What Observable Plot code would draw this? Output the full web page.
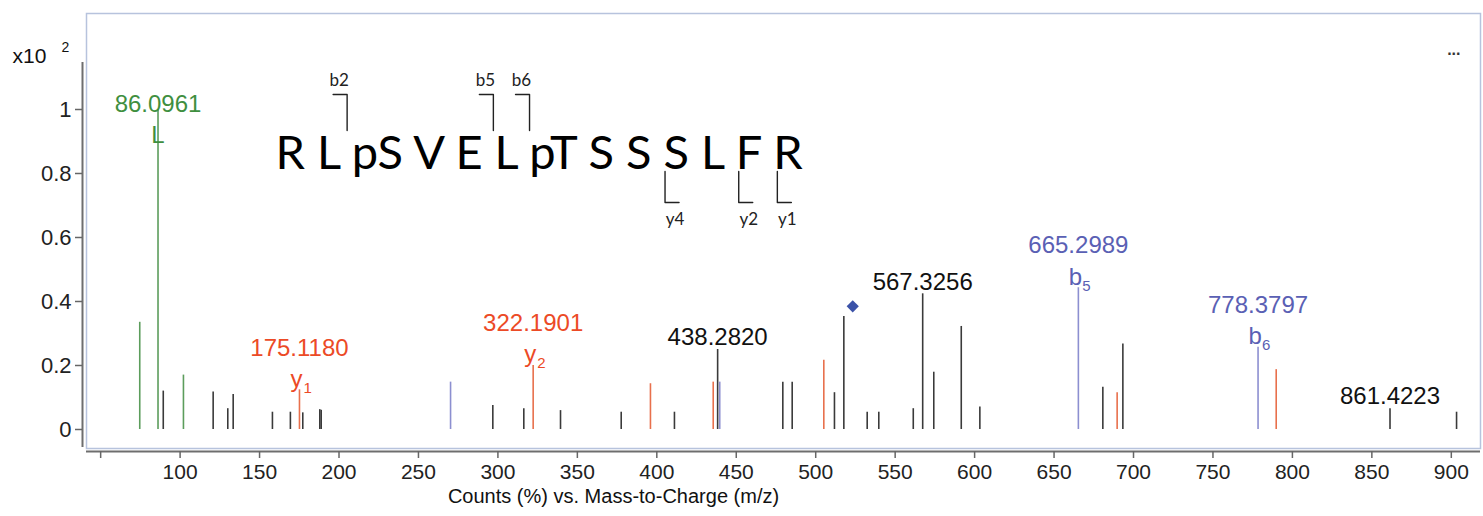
<!DOCTYPE html>
<html><head><meta charset="utf-8">
<script src="https://cdn.jsdelivr.net/npm/d3@7"></script>
<script src="https://cdn.jsdelivr.net/npm/@observablehq/plot@0.6"></script>
<style>html,body{margin:0;padding:0;background:#fff;overflow:hidden;}</style>
</head><body><div id="chart"></div>
<script>
// ---------- data (m/z, relative intensity x10^2) ----------
const greenMz  = [74.6, 86.0961, 102.1];
const greenInt = [0.335, 1.0, 0.17];
const blackMz  = [89.4, 120.8, 130.0, 133.4, 158.1, 169.4, 177.2, 187.9, 188.8, 296.8, 316.3, 339.4, 377.6, 411.1, 438.2820, 479.3, 485.2, 511.8, 517.7, 532.4, 539.7, 561.4, 567.3256, 574.3, 591.6, 603.3, 680.7, 693.3, 861.4223, 903.3];
const blackInt = [0.12, 0.117, 0.065, 0.109, 0.054, 0.054, 0.052, 0.062, 0.06, 0.075, 0.065, 0.059, 0.054, 0.054, 0.25, 0.148, 0.148, 0.115, 0.353, 0.054, 0.054, 0.065, 0.424, 0.179, 0.322, 0.07, 0.132, 0.267, 0.065, 0.054];
const redMz    = [175.1180, 322.1901, 396.0, 435.5, 505.1, 689.7, 789.8];
const redInt   = [0.124, 0.2, 0.143, 0.148, 0.216, 0.115, 0.187];
const blueMz   = [270.2, 439.6, 665.2989, 778.3797];
const blueInt  = [0.148, 0.148, 0.443, 0.257];
const precursorMz  = [523.3];
const precursorInt = [0.385];

const labelMz     = [86.0961, 175.1180, 322.1901, 438.2820, 567.3256, 665.2989, 778.3797, 861.4223];
const labelText   = ["86.0961", "175.1180", "322.1901", "438.2820", "567.3256", "665.2989", "778.3797", "861.4223"];
const labelIon    = ["L", "y", "y", "", "", "b", "b", ""];
const labelIonSub = ["", "1", "2", "", "", "5", "6", ""];
const labelSeries = ["green", "red", "red", "black", "black", "blue", "blue", "black"];

const residues = ["R", "L", "pS", "V", "E", "L", "pT", "S", "S", "S", "L", "F", "R"];
const bIons = [2, 5, 6];
const yIons = [4, 2, 1];

const xTicks = [50, 100, 150, 200, 250, 300, 350, 400, 450, 500, 550, 600, 650, 700, 750, 800, 850, 900];
const yTicks = [0, 0.2, 0.4, 0.6, 0.8, 1];
const xTitle = "Counts (%) vs. Mass-to-Charge (m/z)";

// ---------- styles ----------
const lineColor = {green: "#5c9d5c", black: "#3a3a3a", red: "#e8704c", blue: "#8c8fd0"};
const textColor = {green: "#3f8f3f", black: "#111111", red: "#ec4a26", blue: "#5a60b4"};
const FONT = "Liberation Sans, Arial, Helvetica, sans-serif";
const SEQFONT = "Lato";

const W = 1483, H = 516;
const mL = 86, mR = 3, mT = 13, mB = 68;
const xDomain = [41.09, 918.37];
const yDomain = [-0.0594, 1.3];

async function draw() {
  try { await document.fonts.load(`47px ${SEQFONT}`); } catch (e) {}
  const xs = Plot.scale({x: {domain: xDomain, range: [mL, W - mR]}});
  const ys = Plot.scale({y: {domain: yDomain, range: [H - mB, mT]}});
  const X = px => xs.invert(px);
  const Y = py => ys.invert(py);

  const series = (mz, it, s) => mz.map((m, i) => ({mz: m, h: it[i], s}));
  const peaks = [
    ...series(greenMz, greenInt, "green"),
    ...series(blackMz, blackInt, "black"),
    ...series(redMz, redInt, "red"),
    ...series(blueMz, blueInt, "blue")
  ];
  const heightAt = m => peaks.reduce((a, p) => Math.abs(p.mz - m) < Math.abs(a.mz - m) ? p : a).h;
  const labels = labelMz.map((m, i) => ({mz: m, h: heightAt(m), text: labelText[i], ion: labelIon[i], sub: labelIonSub[i], s: labelSeries[i]}));
  const base = labels.filter(d => d.s === "green");
  const other = labels.filter(d => d.s !== "green");

  // sequence layout
  const seqSize = 47;
  const seqStartPx = 275;
  const ctx = document.createElement("canvas").getContext("2d");
  ctx.font = `${seqSize}px ${SEQFONT}`;
  const sp = ctx.measureText(" ").width;
  const gapPx = k => seqStartPx + ctx.measureText(residues.slice(0, k).join(" ")).width + sp / 2;
  const seqBase = 168, bTop = 94, bBot = 130, yTop = 171, yBot = 202, armLen = 14;
  const brackets = [];
  const bLab = [], yLab = [];
  bIons.forEach(n => {
    const g = gapPx(n);
    brackets.push({id: "b" + n, x: X(g - armLen), y: Y(bTop)}, {id: "b" + n, x: X(g), y: Y(bTop)}, {id: "b" + n, x: X(g), y: Y(bBot)});
    bLab.push({x: X(g - 8), y: Y(80), t: "b" + n});
  });
  yIons.forEach(n => {
    const g = gapPx(residues.length - n);
    brackets.push({id: "y" + n, x: X(g), y: Y(yTop)}, {id: "y" + n, x: X(g), y: Y(yBot)}, {id: "y" + n, x: X(g + armLen), y: Y(yBot)});
    yLab.push({x: X(g + 10), y: Y(219), t: "y" + n});
  });

  const rule = s => Plot.ruleX(peaks.filter(p => p.s === s), {x: "mz", y1: 0, y2: "h", stroke: lineColor[s], strokeWidth: 1.6});

  const chart = Plot.plot({
    width: W, height: H,
    marginLeft: mL, marginRight: mR, marginTop: mT, marginBottom: mB,
    x: {domain: xDomain},
    y: {domain: yDomain},
    style: {fontFamily: FONT, fontSize: "21px", color: "#222", background: "#fff"},
    marks: [
      Plot.frame({stroke: "#b7c3dd", strokeWidth: 1.5}),
      Plot.ruleX([xDomain[0]], {y1: -0.056, y2: 1.147, dx: -4, stroke: "#6e6e6e", strokeWidth: 2}),
      Plot.ruleY([yDomain[0]], {dy: 3, stroke: "#6e6e6e", strokeWidth: 2}),
      Plot.axisX({ticks: xTicks, tickSize: 7, tickPadding: 6, dy: 3, label: null, stroke: "#666", strokeWidth: 1.5,
        tickFormat: d => d < 100 ? "" : String(d), fontSize: 21}),
      Plot.axisY({ticks: yTicks, tickSize: 7, tickPadding: 4, dx: -4, label: null, stroke: "#666", strokeWidth: 1.5,
        tickFormat: d => String(+d.toFixed(1)), fontSize: 22}),
      rule("green"), rule("black"), rule("red"), rule("blue"),
      Plot.dot(precursorMz.map((m, i) => ({mz: m, h: precursorInt[i]})), {x: "mz", y: "h", symbol: "diamond2", r: 5.5, fill: "#3b52a8", stroke: "none"}),
      // peak labels
      Plot.text(other, {x: "mz", y: "h", text: "text", fill: d => textColor[d.s], fontSize: 24, lineAnchor: "middle",
        dy: -12, filter: d => !d.ion}),
      Plot.text(other, {x: "mz", y: "h", text: "text", fill: d => textColor[d.s], fontSize: 24, lineAnchor: "middle",
        dy: -42, filter: d => !!d.ion}),
      Plot.text(other, {x: "mz", y: "h", text: "ion", fill: d => textColor[d.s], fontSize: 24, lineAnchor: "bottom",
        textAnchor: "middle", dx: -3, dy: -3, filter: d => !!d.ion}),
      Plot.text(other, {x: "mz", y: "h", text: "sub", fill: d => textColor[d.s], fontSize: 15, lineAnchor: "bottom",
        textAnchor: "start", dx: 4, dy: 3, filter: d => !!d.ion}),
      Plot.text(base, {x: "mz", y: "h", text: "text", fill: d => textColor[d.s], fontSize: 24, lineAnchor: "middle", dy: -5}),
      Plot.text(base, {x: "mz", y: "h", text: "ion", fill: d => textColor[d.s], fontSize: 24, lineAnchor: "middle", dy: 26}),
      // sequence annotation
      Plot.text([{x: X(seqStartPx), y: Y(seqBase), t: residues.join(" ")}], {x: "x", y: "y", text: "t", textAnchor: "start",
        lineAnchor: "bottom", fontFamily: SEQFONT, fontSize: seqSize, fill: "#000"}),
      Plot.line(brackets, {x: "x", y: "y", z: "id", stroke: "#222", strokeWidth: 1.4}),
      Plot.text(bLab, {x: "x", y: "y", text: "t", fontFamily: SEQFONT, fontSize: 17, fill: "#222"}),
      Plot.text(yLab, {x: "x", y: "y", text: "t", fontFamily: SEQFONT, fontSize: 17, fill: "#222"}),
      // frame texts
      Plot.text([xTitle], {frameAnchor: "bottom", dx: -170, dy: 54, fontSize: 20, fill: "#111"}),
      Plot.text(["x10"], {frameAnchor: "top-left", dx: -74, dy: 35, textAnchor: "start", fontSize: 21, fill: "#111"}),
      Plot.text(["2"], {frameAnchor: "top-left", dx: -25, dy: 29, textAnchor: "start", fontSize: 14, fill: "#111"}),
      Plot.text(["..."], {frameAnchor: "top-right", dx: -20, dy: 30, fontSize: 16, fontWeight: "bold", fill: "#333"})
    ]
  });
  document.getElementById("chart").appendChild(chart);
}
draw();
</script>
</body></html>
